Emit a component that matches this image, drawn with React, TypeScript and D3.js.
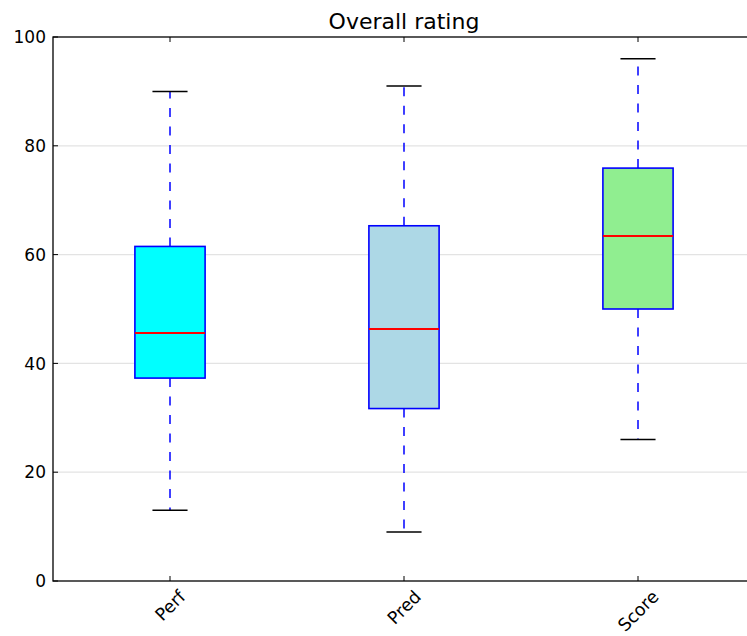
import React, { useEffect, useRef } from "react";
import * as d3 from "d3";

const categories = ["Perf", "Pred", "Score"];
const whiskerLow = [13, 9, 26];
const q1 = [37.3, 31.7, 50];
const medians = [45.5, 46.4, 63.5];
const q3 = [61.5, 65.3, 75.9];
const whiskerHigh = [90, 91, 96];
const fills = ["#00ffff", "#add8e6", "#90ee90"];
const yTicks = [0, 20, 40, 60, 80, 100];
const gridTicks = [20, 40, 60, 80];
const title = "Overall rating";

const W = 747;
const H = 636;
const M = { left: 53, top: 37, right: 755, bottom: 581 };
const FONT = "DejaVu Sans, sans-serif";

export default function App() {
  const ref = useRef<SVGSVGElement | null>(null);

  useEffect(() => {
    const svg = d3.select(ref.current);
    svg.selectAll("*").remove();

    const x = d3.scaleLinear().domain([0.5, 3.5]).range([M.left, M.right]);
    const y = d3.scaleLinear().domain([0, 100]).range([M.bottom, M.top]);
    const boxW = x(1.3) - x(1);
    const capW = boxW / 2;

    svg.append("rect").attr("x", 0).attr("y", 0).attr("width", W).attr("height", H).attr("fill", "#fff");

    svg
      .append("g")
      .selectAll("line")
      .data(gridTicks)
      .join("line")
      .attr("x1", M.left)
      .attr("x2", M.right)
      .attr("y1", (d) => y(d))
      .attr("y2", (d) => y(d))
      .attr("stroke", "#e3e3e3")
      .attr("stroke-width", 1.2);

    const data = categories.map((c, i) => ({
      c,
      i,
      lo: whiskerLow[i],
      q1: q1[i],
      med: medians[i],
      q3: q3[i],
      hi: whiskerHigh[i],
      fill: fills[i],
    }));

    const g = svg.append("g");
    const box = g.selectAll("g.box").data(data).join("g").attr("class", "box");

    box
      .append("line")
      .attr("x1", (d) => x(d.i + 1))
      .attr("x2", (d) => x(d.i + 1))
      .attr("y1", (d) => y(d.q3))
      .attr("y2", (d) => y(d.hi))
      .attr("stroke", "#0000ff")
      .attr("stroke-width", 1.5)
      .attr("stroke-dasharray", "9,9.5");
    box
      .append("line")
      .attr("x1", (d) => x(d.i + 1))
      .attr("x2", (d) => x(d.i + 1))
      .attr("y1", (d) => y(d.q1))
      .attr("y2", (d) => y(d.lo))
      .attr("stroke", "#0000ff")
      .attr("stroke-width", 1.5)
      .attr("stroke-dasharray", "9,9.5");

    box
      .append("line")
      .attr("x1", (d) => x(d.i + 1) - capW / 2)
      .attr("x2", (d) => x(d.i + 1) + capW / 2)
      .attr("y1", (d) => y(d.hi))
      .attr("y2", (d) => y(d.hi))
      .attr("stroke", "#000")
      .attr("stroke-width", 1.5);
    box
      .append("line")
      .attr("x1", (d) => x(d.i + 1) - capW / 2)
      .attr("x2", (d) => x(d.i + 1) + capW / 2)
      .attr("y1", (d) => y(d.lo))
      .attr("y2", (d) => y(d.lo))
      .attr("stroke", "#000")
      .attr("stroke-width", 1.5);

    box
      .append("rect")
      .attr("x", (d) => x(d.i + 1) - boxW / 2)
      .attr("width", boxW)
      .attr("y", (d) => y(d.q3))
      .attr("height", (d) => y(d.q1) - y(d.q3))
      .attr("fill", (d) => d.fill)
      .attr("stroke", "#0000ff")
      .attr("stroke-width", 1.6);

    box
      .append("line")
      .attr("x1", (d) => x(d.i + 1) - boxW / 2)
      .attr("x2", (d) => x(d.i + 1) + boxW / 2)
      .attr("y1", (d) => Math.round(y(d.med)))
      .attr("y2", (d) => Math.round(y(d.med)))
      .attr("stroke", "#ff0000")
      .attr("stroke-width", 2);

    svg
      .append("rect")
      .attr("x", M.left)
      .attr("y", M.top)
      .attr("width", M.right - M.left)
      .attr("height", M.bottom - M.top)
      .attr("fill", "none")
      .attr("stroke", "#000")
      .attr("stroke-width", 1.3);

    const yt = svg.append("g");
    yt.selectAll("line")
      .data(yTicks)
      .join("line")
      .attr("x1", M.left)
      .attr("x2", M.left + 5)
      .attr("y1", (d) => y(d))
      .attr("y2", (d) => y(d))
      .attr("stroke", "#000")
      .attr("stroke-width", 1);
    yt.selectAll("text")
      .data(yTicks)
      .join("text")
      .attr("x", M.left - 7)
      .attr("y", (d) => y(d))
      .attr("dy", "0.36em")
      .attr("text-anchor", "end")
      .attr("font-family", FONT)
      .attr("font-size", 17)
      .attr("fill", "#000")
      .text((d) => String(d));

    const xt = svg.append("g");
    categories.forEach((c, i) => {
      const cx = x(i + 1);
      xt.append("line").attr("x1", cx).attr("x2", cx).attr("y1", M.bottom).attr("y2", M.bottom - 5).attr("stroke", "#000").attr("stroke-width", 1);
      xt.append("line").attr("x1", cx).attr("x2", cx).attr("y1", M.top).attr("y2", M.top + 5).attr("stroke", "#000").attr("stroke-width", 1);
      const t = xt
        .append("text")
        .attr("text-anchor", "middle")
        .attr("dy", "0.36em")
        .attr("font-family", FONT)
        .attr("font-size", 17.5)
        .attr("fill", "#000")
        .text(c);
      const w = (t.node() as SVGTextElement).getComputedTextLength();
      const hInk = 12.5;
      const cy = M.bottom + 8 + (w + hInk) / (2 * Math.SQRT2);
      t.attr("transform", `translate(${cx},${cy}) rotate(-45)`);
    });

    svg
      .append("text")
      .attr("x", (M.left + M.right) / 2)
      .attr("y", 29)
      .attr("text-anchor", "middle")
      .attr("font-family", FONT)
      .attr("font-size", 22)
      .attr("fill", "#000")
      .text(title);
  }, []);

  return <svg ref={ref} width={W} height={H} style={{ display: "block", position: "absolute", left: 0, top: 0 }} />;
}
